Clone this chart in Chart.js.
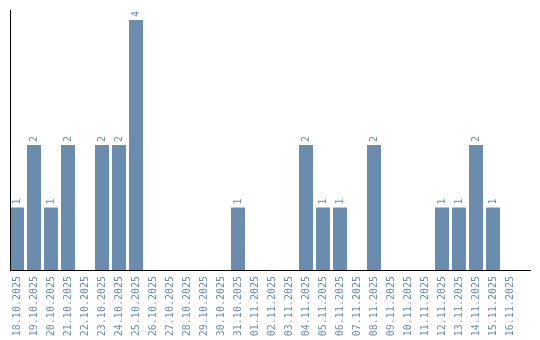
<!DOCTYPE html>
<html><head><meta charset="utf-8">
<script src="https://cdn.jsdelivr.net/npm/chart.js@4/dist/chart.umd.min.js"></script>
<style>html,body{margin:0;padding:0;background:#fff}#wrap{width:540px;height:340px}</style>
</head><body><div id="wrap"><canvas id="c" width="540" height="340"></canvas></div>
<script>
const categories = ["18.10.2025","19.10.2025","20.10.2025","21.10.2025","22.10.2025","23.10.2025","24.10.2025","25.10.2025","26.10.2025","27.10.2025","28.10.2025","29.10.2025","30.10.2025","31.10.2025","01.11.2025","02.11.2025","03.11.2025","04.11.2025","05.11.2025","06.11.2025","07.11.2025","08.11.2025","09.11.2025","10.11.2025","11.11.2025","12.11.2025","13.11.2025","14.11.2025","15.11.2025","16.11.2025"];
const values = [1,2,1,2,0,2,2,4,0,0,0,0,0,1,0,0,0,2,1,1,0,2,0,0,0,1,1,2,1,0];
const yMax = 4.16;
const color = '#6a8caf';
const font = {family: "'DejaVu Sans Mono', monospace", size: 10};

const labelPlugin = {
  id: 'barLabels',
  afterDatasetsDraw(chart) {
    const ctx = chart.ctx;
    const meta = chart.getDatasetMeta(0);
    const a = chart.chartArea;
    ctx.save();
    // axis lines
    ctx.strokeStyle = '#000';
    ctx.lineWidth = 1;
    ctx.beginPath();
    ctx.moveTo(10.5, a.top);
    ctx.lineTo(10.5, a.bottom);
    ctx.moveTo(10, a.bottom + 0.5);
    ctx.lineTo(531, a.bottom + 0.5);
    ctx.stroke();
    // value labels
    ctx.fillStyle = color;
    ctx.font = font.size + "px " + font.family;
    ctx.textAlign = 'left';
    ctx.textBaseline = 'middle';
    meta.data.forEach((bar, i) => {
      const v = values[i];
      if (!v) return;
      ctx.save();
      ctx.translate(bar.x, bar.y - 3);
      ctx.rotate(-Math.PI / 2);
      ctx.fillText(String(v), 0, 0);
      ctx.restore();
    });
    ctx.restore();
  }
};

new Chart(document.getElementById('c'), {
  type: 'bar',
  data: { labels: categories, datasets: [{ data: values, backgroundColor: color, barPercentage: 14/17, categoryPercentage: 1.0 }] },
  options: {
    responsive: false, animation: false,
    layout: { padding: { left: 8.5, right: 21.5, top: 10, bottom: 0 } },
    plugins: { legend: { display: false }, tooltip: { enabled: false } },
    scales: {
      x: {
        grid: { display: false, drawTicks: false },
        border: { display: false },
        ticks: { color: color, font: font, minRotation: 90, maxRotation: 90, autoSkip: false, padding: 6 },
        afterFit(s) { s.height = 70; }
      },
      y: {
        min: 0, max: yMax,
        grid: { display: false, drawTicks: false },
        border: { display: false },
        ticks: { display: false },
        afterFit(s) { s.width = 0; }
      }
    }
  },
  plugins: [labelPlugin]
});
</script></body></html>
